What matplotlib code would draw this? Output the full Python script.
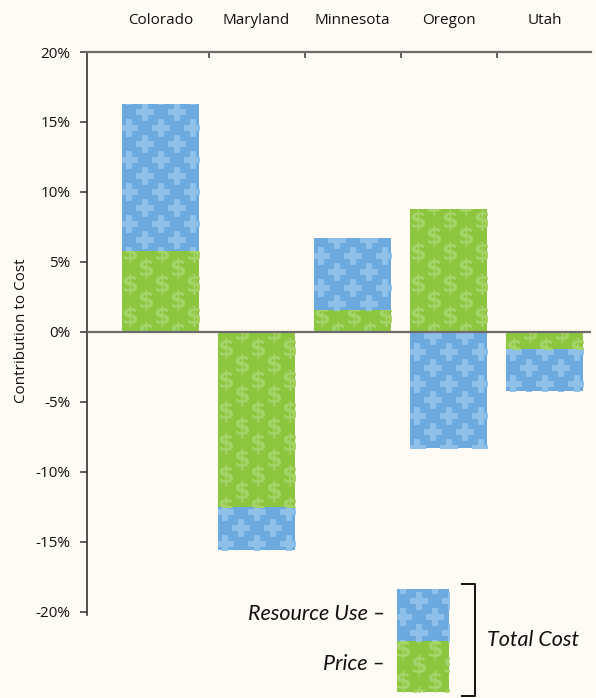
import numpy as np
import matplotlib
matplotlib.use("Agg")
import matplotlib.pyplot as plt
from matplotlib.patches import Rectangle
from matplotlib.transforms import blended_transform_factory

states = ["Colorado", "Maryland", "Minnesota", "Oregon", "Utah"]
price = [5.8, -12.5, 1.55, 8.8, -1.25]          # green (Price) contribution, %
resource = [10.45, -3.1, 5.15, -8.3, -3.0]      # blue (Resource Use) contribution, %
yticks = [20, 15, 10, 5, 0, -5, -10, -15, -20]

BG = "#FEFBF4"
BLUE = "#6BA9DE"
BLUE_L = "#8EC0EA"
GREEN = "#8CC63F"
GREEN_L = "#A4D367"

plt.rcParams["font.family"] = ["Open Sans", "DejaVu Sans"]
plt.rcParams["mathtext.fontset"] = "dejavusans"

W, H = 596, 698
fig = plt.figure(figsize=(W / 100, H / 100), dpi=100, facecolor=BG)
ax = fig.add_axes([87 / W, 1 - 613.6 / H, (591 - 87) / W, (613.6 - 52) / H])
ax.set_facecolor(BG)

x = np.arange(len(states))
ax.set_xlim(-0.766, 4.484)
ax.set_ylim(-20.15, 20)

price = np.array(price)
resource = np.array(resource)
res_bottom = np.where(np.sign(resource) == np.sign(price), price, 0)

bw = 0.8
gbars = ax.bar(x, price, width=bw, color=GREEN, zorder=2, linewidth=0)
bbars = ax.bar(x, resource, bottom=res_bottom, width=bw, color=BLUE, zorder=2, linewidth=0)

PLUS_S = 150
DOL_S = 250
DOL_M = r"$\mathbf{\$}$"

# pattern grid (decorative texture)
xs_step = 1 / 3.0
ys_step = 16 / 14.0
px, py = [], []
for j, yy in enumerate(np.arange(-22, 22, ys_step)):
    off = (xs_step / 2) * (j % 2)
    for xx in np.arange(-1.0, 5.0, xs_step):
        px.append(xx + off)
        py.append(yy)
px = np.array(px); py = np.array(py)

for b in bbars:
    sc = ax.scatter(px, py, marker="P", s=PLUS_S, color=BLUE_L, linewidths=0, zorder=3)
    sc.set_clip_path(b)
for b in gbars:
    sc = ax.scatter(px + 0.02, py + 0.3, marker=DOL_M, s=DOL_S, color=GREEN_L, linewidths=0, zorder=3)
    sc.set_clip_path(b)

ax.axhline(0, color="#6b6b6b", lw=1.6, zorder=4)

for s in ["right", "bottom"]:
    ax.spines[s].set_visible(False)
ax.spines["left"].set_color("#333333")
ax.spines["left"].set_linewidth(1.2)
ax.spines["top"].set_color("#6b6b6b")
ax.spines["top"].set_linewidth(1.6)
ax.spines["left"].set_bounds(-20.25, 20)

ax.set_yticks(yticks)
ax.set_yticklabels([f"{v}%" for v in yticks])
ax.tick_params(axis="y", direction="out", length=5, width=1.1, color="#333333",
               labelsize=11, pad=7, labelcolor="#111111")

ax.xaxis.set_ticks_position("top")
ax.set_xticks(x[:-1] + 0.5)
ax.set_xticklabels([])
ax.tick_params(axis="x", direction="in", length=4, width=1.2, color="#444444")

trans = blended_transform_factory(ax.transData, ax.transAxes)
for xi, name in zip(x, states):
    ax.text(xi, 1 + 32 / 561.6, name, transform=trans, ha="center", va="center",
            fontsize=11, color="#111111")

fig.text(22 / W, 1 - 331 / H, "Contribution to Cost", rotation=90, ha="center",
         va="center", fontsize=11, color="#111111")

# legend swatch
lax = fig.add_axes([397 / W, 1 - 692 / H, 52 / W, 103 / H])
lax.set_xlim(0, 1); lax.set_ylim(0, 1)
lax.axis("off")
rb = Rectangle((0, 0.5), 1, 0.5, color=BLUE, lw=0)
rg = Rectangle((0, 0), 1, 0.5, color=GREEN, lw=0)
lax.add_patch(rb); lax.add_patch(rg)
lx, ly = [], []
for j, yy in enumerate(np.arange(-0.2, 1.2, 16 / 103)):
    off = (16 / 52) * (j % 2)
    for xx in np.arange(-0.5, 1.5, 32 / 52):
        lx.append(xx + off); ly.append(yy)
lx = np.array(lx); ly = np.array(ly)
s1 = lax.scatter(lx, ly, marker="P", s=PLUS_S, color=BLUE_L, linewidths=0)
s1.set_clip_path(rb)
s2 = lax.scatter(lx, ly, marker=DOL_M, s=DOL_S, color=GREEN_L, linewidths=0)
s2.set_clip_path(rg)

ifam = ["Lato", "DejaVu Sans"]
fig.text(385 / W, 1 - 614 / H, "Resource Use \u2013", ha="right", va="center",
         fontsize=15.5, style="italic", color="#111111", family=ifam)
fig.text(385 / W, 1 - 664 / H, "Price \u2013", ha="right", va="center",
         fontsize=15.5, style="italic", color="#111111", family=ifam)
fig.text(487 / W, 1 - 640 / H, "Total Cost", ha="left", va="center",
         fontsize=15.5, style="italic", color="#111111", family=ifam)

bx = [462 / W, 475 / W, 475 / W, 462 / W]
by = [1 - 584 / H, 1 - 584 / H, 1 - 696 / H, 1 - 696 / H]
fig.add_artist(plt.Line2D(bx, by, color="#111111", lw=1.4, transform=fig.transFigure))

fig.savefig("out.png", dpi=100, facecolor=BG)
